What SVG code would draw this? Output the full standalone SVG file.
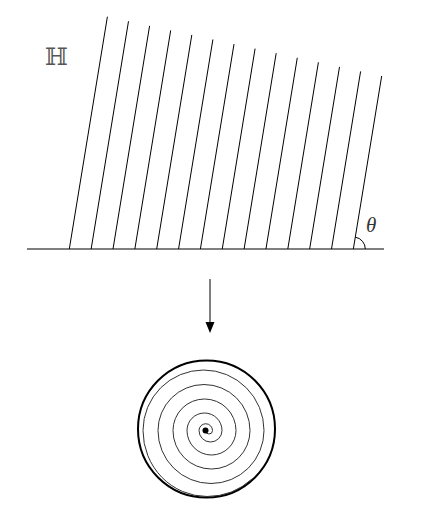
<svg xmlns="http://www.w3.org/2000/svg" width="424" height="514" viewBox="0 0 424 514">
<style>
.ln{stroke:#000;stroke-width:1;fill:none}
.sp{stroke:#333;stroke-width:1;fill:none}
.lbl{font-family:"DejaVu Serif","Liberation Serif",serif}
</style>
<rect width="424" height="514" fill="#fff"/>
<g id="halfplane">
<line class="ln" x1="27" y1="249" x2="384" y2="249"/>
<g id="rays">
<line class="ln" x1="69.3" y1="249" x2="107.4" y2="16.7"/>
<line class="ln" x1="91.15" y1="249" x2="128.5" y2="21.26"/>
<line class="ln" x1="113.0" y1="249" x2="149.6" y2="25.82"/>
<line class="ln" x1="134.85" y1="249" x2="170.7" y2="30.38"/>
<line class="ln" x1="156.7" y1="249" x2="191.8" y2="34.94"/>
<line class="ln" x1="178.55" y1="249" x2="212.9" y2="39.5"/>
<line class="ln" x1="200.4" y1="249" x2="234.0" y2="44.06"/>
<line class="ln" x1="222.25" y1="249" x2="255.1" y2="48.62"/>
<line class="ln" x1="244.1" y1="249" x2="276.2" y2="53.18"/>
<line class="ln" x1="265.95" y1="249" x2="297.3" y2="57.74"/>
<line class="ln" x1="287.8" y1="249" x2="318.4" y2="62.3"/>
<line class="ln" x1="309.65" y1="249" x2="339.5" y2="66.86"/>
<line class="ln" x1="331.5" y1="249" x2="360.6" y2="71.42"/>
<line class="ln" x1="353.35" y1="249" x2="381.7" y2="75.98"/>
</g>
<path class="ln" stroke-width="1.4" d="M365.3 249 A12 12 0 0 0 355.25 237.16"/>
<text class="lbl" x="45" y="65" font-size="24" fill="#555">ℍ</text>
<text x="366" y="231.5" font-family="'Liberation Serif',serif" font-style="italic" font-size="21" fill="#333">θ</text>
</g>
<g id="connectors">
<line class="ln" x1="210" y1="279" x2="210" y2="324"/>
<polygon points="205.5,322 214.5,322 210,333" fill="#000"/>
</g>
<g id="disk">
<circle cx="206.5" cy="429" r="68.5" fill="none" stroke="#000" stroke-width="2"/>
<path class="sp" d="M205.5 430.5 A3.5 3.5 0 0 0 212.5 430.5 A6.75 6.75 0 0 0 199 430.5 A11.5 11.5 0 0 0 222 430.5 A17.5 17.5 0 0 0 187 430.5 A24.5 24.5 0 0 0 236 430.5 A31.5 31.5 0 0 0 173 430.5 A38.5 38.5 0 0 0 250 430.5 A46 46 0 0 0 158 430.5 A53 53 0 0 0 264 430.5 A60.5 60.5 0 0 0 143 430.5 A64 66 0 0 0 207 496.5 A67 67 0 0 0 252 479"/>
<circle cx="205.5" cy="430.5" r="3" fill="#000"/>
</g>
</svg>
